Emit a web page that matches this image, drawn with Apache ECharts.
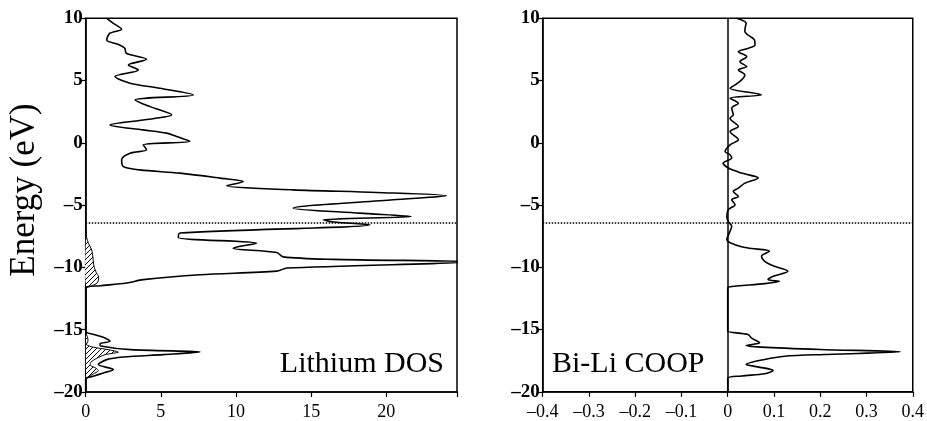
<!DOCTYPE html>
<html>
<head>
<meta charset="utf-8">
<script src="https://cdn.jsdelivr.net/npm/echarts@6/dist/echarts.min.js"></script>
<style>html,body{margin:0;padding:0;background:#fff}#c{width:927px;height:421px}</style>
</head>
<body>
<div id="c"></div>
<script>
// ---- Lithium DOS (total), energy (eV) and value ----
const dosEnergy = [10, 9.6, 9.12, 8.8, 8.26, 7.9, 7.6, 7.19, 6.71, 6.25, 5.85, 5.32, 4.79, 4.38, 3.85, 3.45, 2.91, 2.25, 1.84, 1.44, 1.04, 0.78, 0.51, 0.13, -0.16, -0.56, -0.83, -1.36, -1.9, -2.17, -2.43, -2.83, -3.1, -3.45, -3.77, -3.98, -4.25, -4.57, -5.24, -5.64, -5.91, -6.18, -6.35, -6.58, -7.24, -7.6, -8.05, -8.45, -8.8, -9.15, -9.35, -9.55, -10.05, -10.3, -10.59, -10.98, -11.25, -11.47, -11.6, -15.1, -15.4, -15.66, -15.93, -16.12, -16.3, -16.6, -16.79, -17.0, -17.19, -17.4, -17.8, -18.2, -18.47, -18.74, -18.95, -20];
const dosValue  = [1.4, 1.84, 2.39, 1.6, 1.4, 2.17, 2.6, 2.7, 4.05, 2.84, 3.5, 1.95, 2.95, 4.94, 7.16, 3.28, 4.28, 5.72, 3.83, 1.62, 3.82, 5.38, 6.05, 6.93, 3.83, 4.05, 2.95, 2.39, 2.5, 3.6, 6.27, 8.93, 10.48, 9.37, 13.8, 19.35, 24.0, 20.45, 13.8, 18.24, 21.67, 15.8, 16.5, 18.9, 6.27, 6.16, 11.37, 9.81, 12.7, 13.14, 16.45, 25.5, 13.4, 12.7, 7.6, 3.83, 2.72, 0.95, 0, 0, 0.62, 1.28, 1.62, 0.95, 1.0, 3.0, 7.6, 5.16, 2.5, 1.4, 0.84, 1.84, 1.17, 0.5, 0, 0];

// ---- Partial (hatched) DOS, two bands ----
const pdosUpperEnergy = [-7.0, -7.6, -8.1, -8.6, -9.2, -9.9, -10.4, -10.75, -11.25, -11.55];
const pdosUpperValue  = [0, 0.06, 0.2, 0.4, 0.48, 0.55, 0.7, 0.86, 0.76, 0];
const pdosLowerEnergy = [-15.3, -15.6, -15.9, -16.2, -16.4, -16.6, -16.8, -17.0, -17.3, -17.6, -17.85, -18.1, -18.3, -18.55, -18.8, -19.0];
const pdosLowerValue  = [0, 0.12, 0.15, 0.05, 0.5, 1.5, 2.17, 1.3, 0.73, 0.35, 0.3, 0.7, 0.84, 0.5, 0.15, 0];

// ---- Bi-Li COOP ----
const coopEnergy = [10, 9.6, 9.3, 8.93, 8.66, 8.26, 7.86, 7.6, 7.32, 6.92, 6.52, 6.12, 5.85, 5.45, 5.05, 4.65, 4.39, 3.85, 3.58, 3.18, 2.78, 2.25, 1.98, 1.31, 0.91, 0.24, -0.16, -0.7, -0.96, -1.23, -1.63, -2.03, -2.43, -2.83, -3.24, -3.64, -3.9, -4.31, -4.57, -4.97, -5.37, -5.91, -6.31, -6.71, -7.11, -7.78, -8.18, -8.45, -8.71, -9.11, -9.52, -9.92, -10.32, -10.72, -10.99, -11.12, -11.31, -11.58, -11.75, -15.0, -15.13, -15.4, -15.67, -16.07, -16.28, -16.41, -16.6, -16.79, -17.0, -17.14, -17.4, -17.8, -18.0, -18.28, -18.55, -18.73, -18.93, -20];
const coopValue  = [0.019, 0.040, 0.038, 0.037, 0.044, 0.058, 0.059, 0.045, 0.023, 0.041, 0.0265, 0.041, 0.023, 0.037, 0.030, 0.016, 0.005, 0.073, 0.005, 0.023, 0.0086, 0.012, 0.005, 0.023, 0.005, 0.023, 0.005, -0.0057, 0.005, 0.0086, -0.010, 0.0014, 0.030, 0.066, 0.037, 0.023, 0.012, 0.023, 0.0086, 0.0158, 0.0014, -0.002, 0.001, 0.0086, 0.005, -0.002, 0.0158, 0.044, 0.090, 0.073, 0.080, 0.101, 0.130, 0.098, 0.087, 0.112, 0.08, 0.0014, 0, 0, 0, 0.044, 0.051, 0.069, 0.040, 0.073, 0.2, 0.373, 0.209, 0.123, 0.08, 0.04, 0.065, 0.098, 0.08, 0.03, 0, 0];

const fermiLevel = -6.4;

// ---------------------------------------------------------------
const SERIF = '"Liberation Serif", "DejaVu Serif", serif';
const chart = echarts.init(document.getElementById('c'), null, {renderer: 'canvas'});

// hatch pattern
const pat = document.createElement('canvas');
pat.width = 5; pat.height = 5;
const pc = pat.getContext('2d');
pc.fillStyle = '#fff'; pc.fillRect(0, 0, 5, 5);
pc.strokeStyle = '#000'; pc.lineWidth = 1;
pc.beginPath();
pc.moveTo(-1, 6); pc.lineTo(6, -1);
pc.moveTo(-1, 1); pc.lineTo(1, -1);
pc.moveTo(4, 6); pc.lineTo(6, 4);
pc.stroke();
const hatch = {image: pat, repeat: 'repeat'};

const minusFmt = v => (v < 0 ? '\u2013' : '') + String(Math.round(Math.abs(v) * 10) / 10);

const pairs = (E, V) => E.map((e, i) => [V[i], e]);

function hatchSeries(E, V) {
  return {
    type: 'custom', xAxisIndex: 0, yAxisIndex: 0, clip: true, silent: true, z: 1,
    data: [[0, 0]],
    renderItem: function (params, api) {
      const pts = E.map((e, i) => api.coord([V[i], e]));
      return {
        type: 'polygon',
        shape: {points: pts, smooth: 0.25},
        style: {fill: hatch, stroke: '#000', lineWidth: 1}
      };
    }
  };
}

const axisLineStyle = {show: true, onZero: false, lineStyle: {color: '#000', width: 1.5}};
const yAxisCommon = {
  type: 'value', min: -20, max: 10, interval: 5,
  axisLine: axisLineStyle,
  axisTick: {show: true, inside: false, length: 5, lineStyle: {color: '#000', width: 1.2}},
  axisLabel: {color: '#000', fontFamily: SERIF, fontSize: 19, fontWeight: 'bold', margin: 3, formatter: minusFmt},
  splitLine: {show: false}
};
const xLabel = {color: '#000', fontFamily: SERIF, fontSize: 18, margin: 11};

const option = {
  animation: false,
  backgroundColor: '#fff',
  grid: [
    {left: 85.7, top: 18.3, width: 371.3, height: 374, show: true, borderColor: '#000', borderWidth: 1.5, backgroundColor: 'transparent'},
    {left: 542.7, top: 18.3, width: 374, height: 373.5, show: true, borderColor: '#000', borderWidth: 1.5, backgroundColor: 'transparent'}
  ],
  xAxis: [
    {
      gridIndex: 0, type: 'value', min: 0, max: 24.7, interval: 5,
      axisLine: axisLineStyle,
      axisTick: {show: true, length: 5, lineStyle: {color: '#000', width: 1.2}},
      axisLabel: Object.assign({}, xLabel, {formatter: v => (Math.abs(v % 5) < 1e-9 ? String(v) : '')}),
      splitLine: {show: false}
    },
    {
      gridIndex: 1, type: 'value', min: -0.4, max: 0.4, interval: 0.1,
      axisLine: axisLineStyle,
      axisTick: {show: true, length: 5, lineStyle: {color: '#000', width: 1.2}},
      axisLabel: Object.assign({}, xLabel, {formatter: minusFmt}),
      splitLine: {show: false}
    }
  ],
  yAxis: [
    Object.assign({gridIndex: 0}, yAxisCommon),
    Object.assign({gridIndex: 1}, yAxisCommon)
  ],
  series: [
    hatchSeries(pdosUpperEnergy, pdosUpperValue),
    hatchSeries(pdosLowerEnergy, pdosLowerValue),
    {
      type: 'line', xAxisIndex: 0, yAxisIndex: 0, z: 3,
      data: pairs(dosEnergy, dosValue),
      showSymbol: false, smooth: 0.3, clip: true,
      lineStyle: {color: '#000', width: 1.6},
      markLine: {
        silent: true, symbol: 'none', label: {show: false},
        lineStyle: {color: '#000', type: 'dotted', width: 1.5},
        data: [{yAxis: fermiLevel}]
      }
    },
    {
      type: 'line', xAxisIndex: 1, yAxisIndex: 1, z: 3,
      data: pairs(coopEnergy, coopValue),
      showSymbol: false, smooth: 0.3, clip: true,
      lineStyle: {color: '#000', width: 1.6},
      markLine: {
        silent: true, symbol: 'none', label: {show: false},
        data: [
          {yAxis: fermiLevel, lineStyle: {color: '#000', type: 'dotted', width: 1.5}},
          {xAxis: 0, lineStyle: {color: '#000', type: 'solid', width: 1.5}}
        ]
      }
    }
  ],
  graphic: [
    {type: 'text', x: 25, y: 190, rotation: Math.PI / 2,
      style: {text: 'Energy (eV)', font: '35px ' + SERIF, fill: '#000', align: 'center', verticalAlign: 'middle', textAlign: 'center', textVerticalAlign: 'middle'}},
    {type: 'text', x: 444, y: 364,
      style: {text: 'Lithium DOS', font: '30px ' + SERIF, fill: '#000', align: 'right', verticalAlign: 'middle', textAlign: 'right', textVerticalAlign: 'middle'}},
    {type: 'text', x: 552, y: 364,
      style: {text: 'Bi-Li COOP', font: '30px ' + SERIF, fill: '#000', align: 'left', verticalAlign: 'middle', textAlign: 'left', textVerticalAlign: 'middle'}}
  ]
};
chart.setOption(option);
</script>
</body>
</html>
